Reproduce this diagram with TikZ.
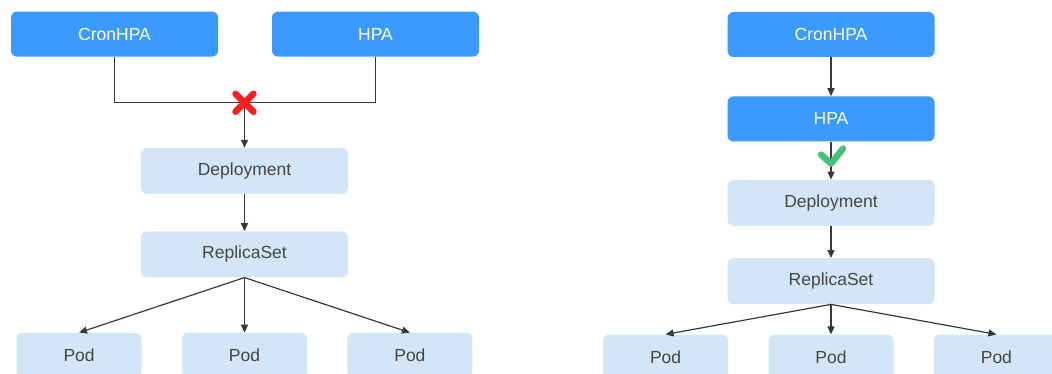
\documentclass[tikz,border=0pt]{standalone}
\usepackage{fontspec}
\setmainfont{Liberation Sans}
\usepackage{xcolor}
\usepackage{tikz}
\usetikzlibrary{positioning, arrows.meta, calc}
\definecolor{ctrlfill}  {HTML}{3A9AFF}
\definecolor{objfill}   {HTML}{D3E6F8}
\definecolor{objtext}   {HTML}{454545}
\definecolor{linecol}   {HTML}{383838}
\definecolor{crossred}  {HTML}{FF1E1E}
\definecolor{tickgreen} {HTML}{46C07B}
\tikzset{
  ctrlnode/.style={rectangle, rounded corners=6pt, minimum width=207pt,
    minimum height=45pt, fill=ctrlfill, text=white, draw=none,
    font=\fontsize{17.5}{19}\selectfont},
  objnode/.style={rectangle, rounded corners=6pt, minimum width=207pt,
    minimum height=46pt, fill=objfill, text=objtext, draw=none,
    font=\fontsize{17.5}{19}\selectfont},
  podnode/.style={objnode, minimum width=125pt, minimum height=45pt},
  plainline/.style={line width=1.2pt, color=linecol},
  solidarr/.style={-{Triangle[length=8pt,width=7pt]}, line width=1.2pt, color=linecol},
  crossmark/.style={line width=6.5pt, line cap=round, color=crossred},
  tickmark/.style={line width=6.5pt, line cap=round, line join=round, color=tickgreen}
}

\begin{document}
\begin{tikzpicture}[x=1pt, y=1pt]

  \useasboundingbox (0,0) rectangle (1052,-374);
  \clip (0,0) rectangle (1052,-374);

  %% LEFT: CronHPA and HPA both on the Deployment
  \node[objnode] (deployL) at (244.5,-171) {Deployment};

  \node[ctrlnode, above=91pt of deployL, xshift=-130pt] (cronL) {CronHPA};
  \node[ctrlnode, above=91pt of deployL, xshift=131pt]  (hpaL)  {HPA};

  \node[objnode, below=37pt of deployL] (rsL) {ReplicaSet};

  \node[podnode, below=55pt of rsL]  (podL2) {Pod};
  \node[podnode, left=40pt of podL2]  (podL1) {Pod};
  \node[podnode, right=40pt of podL2] (podL3) {Pod};

  \coordinate (joinL) at ([yshift=45pt] deployL.north);

  \draw[plainline] (cronL.south) |- (joinL) -| (hpaL.south);
  \draw[solidarr] (joinL) -- (deployL.north);
  \draw[solidarr] (deployL) -- (rsL);
  \draw[solidarr] (rsL.south) -- (podL1.north);
  \draw[solidarr] (rsL.south) -- (podL2.north);
  \draw[solidarr] (rsL.south) -- (podL3.north);

  % red cross over the junction
  \draw[crossmark] ($(joinL)+(-9,9)$) -- ($(joinL)+(9,-9)$);
  \draw[crossmark] ($(joinL)+(-9,-9)$) -- ($(joinL)+(9,9)$);

  %% RIGHT: CronHPA drives HPA
  \node[ctrlnode] (cronR) at (831,-34.5) {CronHPA};
  \node[ctrlnode, below=39pt of cronR] (hpaR) {HPA};
  \node[objnode, below=38pt of hpaR]   (deployR) {Deployment};
  \node[objnode, below=32pt of deployR] (rsR) {ReplicaSet};

  \node[podnode, below=30pt of rsR]   (podR2) {Pod};
  \node[podnode, left=40pt of podR2]  (podR1) {Pod};
  \node[podnode, right=40pt of podR2] (podR3) {Pod};

  \draw[solidarr] (cronR) -- (hpaR);
  \draw[solidarr] (hpaR) -- (deployR);
  \draw[solidarr] (deployR) -- (rsR);
  \draw[solidarr] (rsR.south) -- (podR1.north);
  \draw[solidarr] (rsR.south) -- (podR2.north);
  \draw[solidarr] (rsR.south) -- (podR3.north);

  % green tick under HPA
  \coordinate (tickR) at ([yshift=-22pt] hpaR.south);
  \draw[tickmark] ($(tickR)+(-10,9)$) -- (tickR) -- ($(tickR)+(12,15)$);

\end{tikzpicture}
\end{document}
